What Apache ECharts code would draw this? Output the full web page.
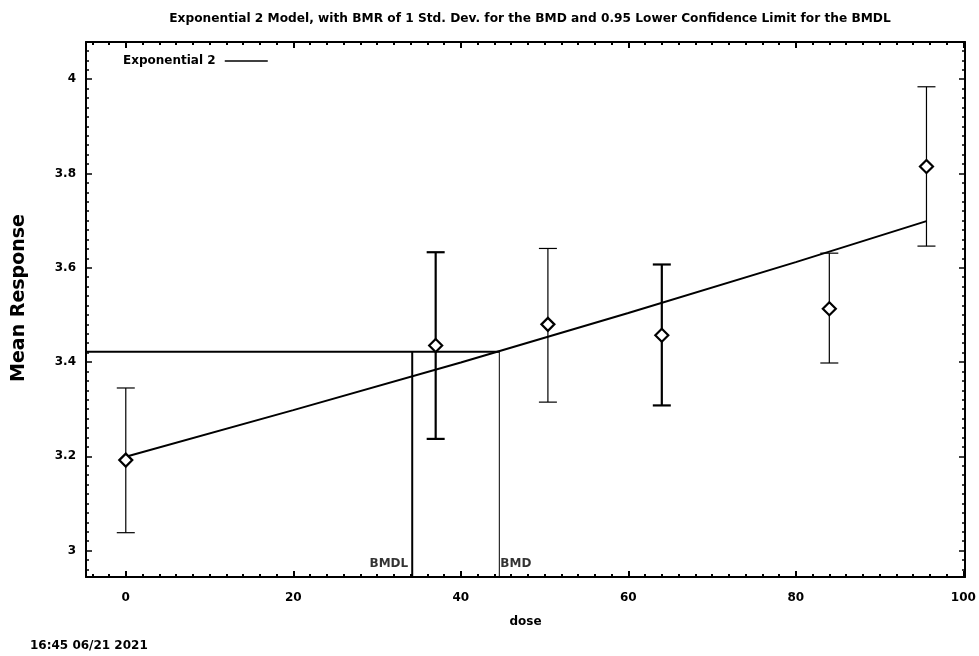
<!DOCTYPE html>
<html>
<head>
<meta charset="utf-8">
<script src="https://cdn.jsdelivr.net/npm/echarts@6/dist/echarts.min.js"></script>
<style>html,body{margin:0;padding:0;background:#fff}#c{width:979px;height:656px}</style>
</head>
<body>
<div id="c"></div>
<script>
// ---- data ----
const doses = [0, 37, 50.4, 64, 84, 95.6];
const means = [3.192, 3.435, 3.480, 3.457, 3.513, 3.815];
const upper = [3.345, 3.633, 3.641, 3.607, 3.631, 3.984];
const lower = [3.038, 3.237, 3.315, 3.308, 3.398, 3.646];
const modelDoses = [0, 20, 40, 60, 80, 95.6];
const modelValues = [3.199, 3.298, 3.399, 3.504, 3.612, 3.699];
const bmd = 44.6;
const bmdl = 34.2;
const bmrResponse = 3.422;
const xTickLabels = [0, 20, 40, 60, 80, 100];
const yTickLabels = [3, 3.2, 3.4, 3.6, 3.8, 4];
const titleText = 'Exponential 2 Model, with BMR of 1 Std. Dev. for the BMD and 0.95 Lower Confidence Limit for the BMDL';
const yAxisTitle = 'Mean Response';
const xAxisTitle = 'dose';
const dateText = '16:45 06/21 2021';

// ---- layout ----
const XMIN = -4.75, XMAX = 100.2, YMIN = 2.944, YMAX = 4.079;
const FONT = '"DejaVu Sans", "Liberation Sans", Arial, sans-serif';
const xMinor = []; for (let v = -4; v <= 100.001; v += 2) xMinor.push(+v.toFixed(2));
const yMinor = []; for (let v = 2.96; v <= 4.07; v += 0.02) yMinor.push(+v.toFixed(2));
const thickBars = [1, 3];

function xAx(pos, ticks, len, labels, line) {
  return {
    type: 'value', position: pos, min: XMIN, max: XMAX, gridIndex: 0,
    axisLine: {show: line, onZero: false, lineStyle: {color: '#000', width: 2}},
    axisTick: {show: true, inside: true, length: len, customValues: ticks, lineStyle: {color: '#000', width: 2}},
    axisLabel: labels ? {show: true, customValues: ticks, margin: 15, color: '#000', fontSize: 12, fontWeight: 'bold', fontFamily: FONT} : {show: false},
    splitLine: {show: false}
  };
}
function yAx(pos, ticks, len, labels, line) {
  return {
    type: 'value', position: pos, min: YMIN, max: YMAX, gridIndex: 0,
    axisLine: {show: line, onZero: false, lineStyle: {color: '#000', width: 2}},
    axisTick: {show: true, inside: true, length: len, customValues: ticks, lineStyle: {color: '#000', width: 1.5}},
    axisLabel: labels ? {show: true, customValues: ticks, margin: 10, color: '#000', fontSize: 12, fontWeight: 'bold', fontFamily: FONT} : {show: false},
    splitLine: {show: false}
  };
}

const xAxes = [
  Object.assign(xAx('bottom', xTickLabels, 6, true, true), {
    name: xAxisTitle, nameLocation: 'middle', nameGap: 39,
    nameTextStyle: {color: '#000', fontSize: 12, fontWeight: 'bold', fontFamily: FONT}
  }),
  xAx('bottom', xMinor, 3, false, false),
  xAx('top', xTickLabels, 6, false, true),
  xAx('top', xMinor, 3, false, false)
];
const yAxes = [
  yAx('left', yTickLabels, 6, true, true),
  yAx('left', yMinor, 3, false, false),
  yAx('right', yTickLabels, 6, false, true),
  yAx('right', yMinor, 3, false, false)
];

const errData = doses.map((d, i) => [d, lower[i], upper[i]]);

const chart = echarts.init(document.getElementById('c'), null, {renderer: 'canvas'});
chart.setOption({
  animation: false,
  backgroundColor: '#fff',
  title: {
    text: titleText, left: 525, top: 8, textAlign: 'center',
    textStyle: {color: '#000', fontSize: 12.2, fontWeight: 'bold', fontFamily: FONT}
  },
  legend: {
    data: ['Exponential 2'], left: 118, top: 50, align: 'right',
    icon: 'rect', itemWidth: 43, itemHeight: 1.5,
    itemStyle: {borderWidth: 0},
    formatter: n => n + ' ',
    textStyle: {color: '#000', fontSize: 12, fontWeight: 'bold', fontFamily: FONT}
  },
  grid: {left: 86, right: 14, top: 42, bottom: 79, containLabel: false},
  xAxis: xAxes,
  yAxis: yAxes,
  graphic: [
    {
      type: 'text', left: 30, top: 640,
      style: {text: dateText, fill: '#000', font: 'bold 12px ' + FONT}
    },
    {
      type: 'text', x: 19, y: 298, rotation: Math.PI / 2,
      style: {text: yAxisTitle, fill: '#000', font: 'bold 19px ' + FONT, align: 'center', verticalAlign: 'middle'}
    }
  ],
  series: [
    {
      name: 'Exponential 2', type: 'line', xAxisIndex: 0, yAxisIndex: 0,
      data: modelDoses.map((d, i) => [d, modelValues[i]]),
      showSymbol: false, symbol: 'none', smooth: false,
      lineStyle: {color: '#000', width: 2}, itemStyle: {color: '#000'}, z: 3
    },
    {
      name: 'bmr', type: 'line', xAxisIndex: 0, yAxisIndex: 0,
      data: [[XMIN, bmrResponse], [bmd, bmrResponse]],
      showSymbol: false, symbol: 'none', lineStyle: {color: '#000', width: 2}, z: 2
    },
    {
      name: 'bmdlLine', type: 'line', xAxisIndex: 0, yAxisIndex: 0,
      data: [[bmdl, YMIN], [bmdl, bmrResponse]],
      showSymbol: false, symbol: 'none', lineStyle: {color: '#000', width: 2}, z: 2
    },
    {
      name: 'bmdLine', type: 'line', xAxisIndex: 0, yAxisIndex: 0,
      data: [[bmd, YMIN], [bmd, bmrResponse]],
      showSymbol: false, symbol: 'none', lineStyle: {color: '#000', width: 1}, z: 2
    },
    {
      name: 'bmdLabels', type: 'scatter', xAxisIndex: 0, yAxisIndex: 0,
      symbolSize: 0.01, silent: true, z: 4,
      data: [
        {value: [bmdl, YMIN], label: {show: true, formatter: 'BMDL', position: 'left', offset: [1, -13]}},
        {value: [bmd, YMIN], label: {show: true, formatter: 'BMD', position: 'right', offset: [-4, -13]}}
      ],
      label: {color: '#000', fontSize: 12, fontWeight: 'bold', fontFamily: FONT}
    },
    {
      name: 'err', type: 'custom', xAxisIndex: 0, yAxisIndex: 0, z: 4,
      data: errData,
      renderItem: function (params, api) {
        const x = api.value(0);
        const lo = api.coord([x, api.value(1)]);
        const hi = api.coord([x, api.value(2)]);
        const w = thickBars.indexOf(params.dataIndex) >= 0 ? 2.2 : 1.2;
        const hw = 9;
        const st = {stroke: '#000', lineWidth: w};
        return {
          type: 'group',
          children: [
            {type: 'line', shape: {x1: hi[0], y1: hi[1], x2: lo[0], y2: lo[1]}, style: st},
            {type: 'line', shape: {x1: hi[0] - hw, y1: hi[1], x2: hi[0] + hw, y2: hi[1]}, style: st},
            {type: 'line', shape: {x1: lo[0] - hw, y1: lo[1], x2: lo[0] + hw, y2: lo[1]}, style: st}
          ]
        };
      }
    },
    {
      name: 'means', type: 'scatter', xAxisIndex: 0, yAxisIndex: 0, z: 5,
      data: doses.map((d, i) => [d, means[i]]),
      symbol: 'diamond', symbolSize: [13, 13],
      itemStyle: {color: '#fff', borderColor: '#000', borderWidth: 2.2, opacity: 1}
    }
  ]
});
</script>
</body>
</html>
